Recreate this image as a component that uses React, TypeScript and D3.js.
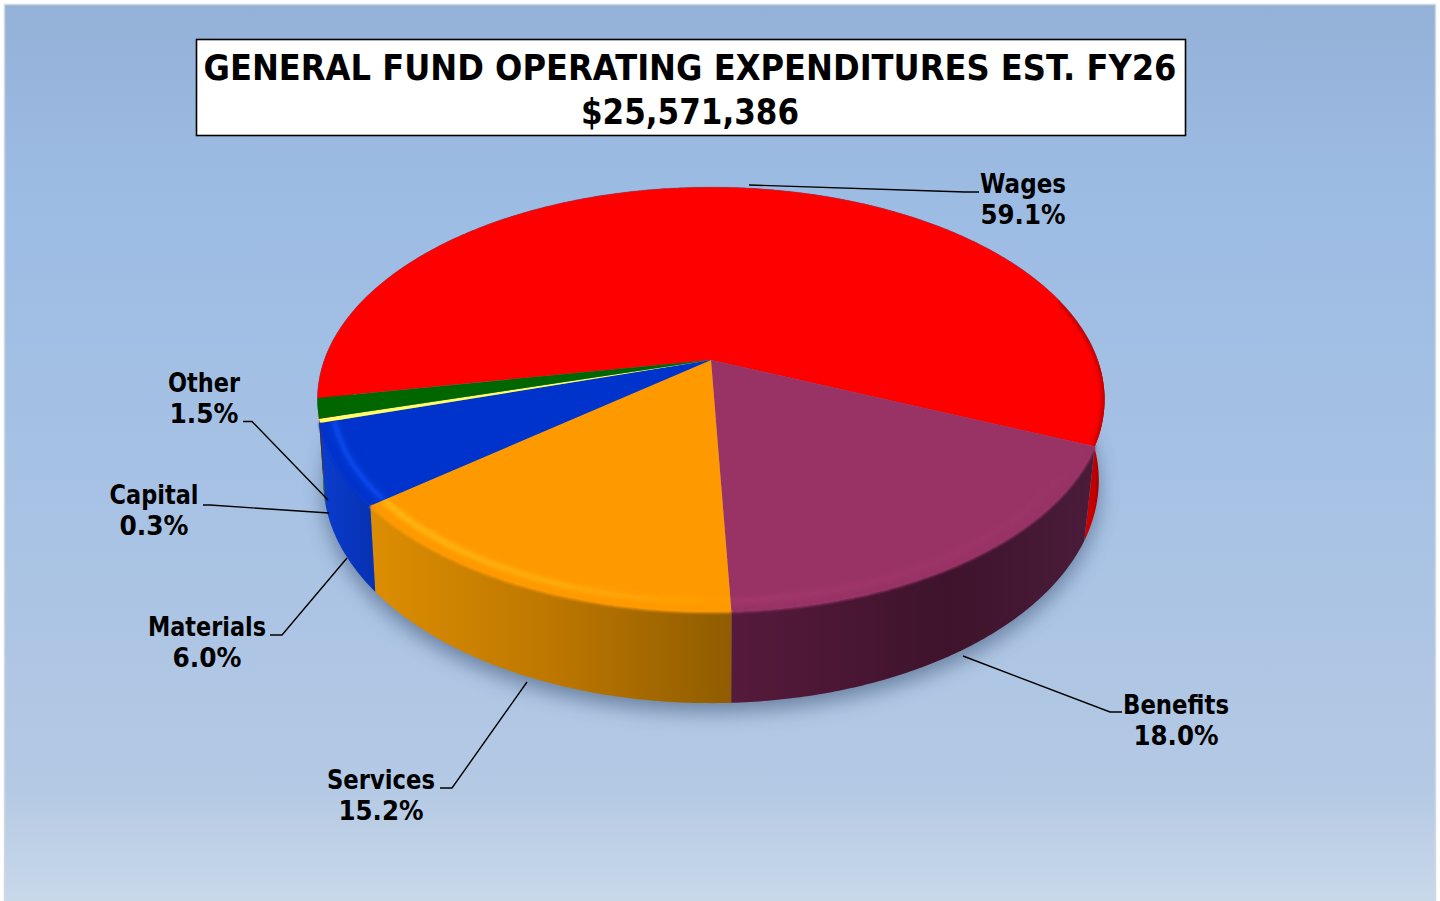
import React from "react";
import * as d3 from "d3";

const categories = ["Wages", "Benefits", "Services", "Materials", "Capital", "Other"];
const shares = [59.1, 18.0, 15.2, 6.0, 0.3, 1.5];
const shareLabels = ["59.1%", "18.0%", "15.2%", "6.0%", "0.3%", "1.5%"];
const topColors = ["#ff0000", "#993366", "#ff9900", "#0033cc", "#ffff66", "#006600"];
const titleLines = ["GENERAL FUND OPERATING EXPENDITURES EST. FY26", "$25,571,386"];

// Layout only: label anchors, fitted text widths and leader polylines
const labelX = [1023, 1176, 381, 207, 154, 204];
const labelY = [193, 714, 789, 636, 504, 392];
const nameW = [86, 106, 108, 118, 89, 72];
const pctW = [85, 85, 85, 69, 69, 69];
const leaders: [number, number][][] = [
  [[749, 185], [965, 192], [979, 192]],
  [[963, 656], [1110, 712], [1122, 712]],
  [[527, 682], [452, 788], [440, 788]],
  [[347, 558], [282, 635], [270, 635]],
  [[329, 513], [210, 505], [203, 505]],
  [[328, 500], [252, 421.5], [243, 421.5]],
];

const W = 1440;
const H = 901;
const FONT = "'DejaVu Sans', Verdana, sans-serif";
const START = (-100.3 * Math.PI) / 180;
const DEG = Math.PI / 180;

type Rim = { cx: number; cy: number; R: number; S: number; k: number; lean: number };
const topRim: Rim = { cx: 711, cy: 360, R: 386.7, S: 205, k: 0.186, lean: 0 };
const botRim: Rim = { cx: 711, cy: 439, R: 381, S: 215, k: 0.186, lean: 2.7 };

// small view corrections of the drawn angle (degrees), as the original 3D view is not a pure projection
const viewWarp = d3.scaleLinear().domain([-101, 60, 112.5, 177.3, 232, 260]).range([0, 0, 0.8, 0.55, -0.55, 0]).clamp(true);
const wallLean = d3.scaleLinear().domain([80, 112.5, 145]).range([0, 1, 0]).clamp(true);

// perspective view of a circle: pie angle (clockwise from 12 o'clock) to screen
function project(rim: Rim, angle: number, r = 1): [number, number] {
  const deg = angle / DEG;
  const a = (deg + viewWarp(deg) + rim.lean * wallLean(deg)) * DEG;
  const x = Math.sin(a) * r;
  const y = -Math.cos(a) * r;
  const w = 1 - rim.k * y;
  return [rim.cx + (rim.R * x) / w, rim.cy + (rim.S * y) / w];
}

function samples(a0: number, a1: number): number[] {
  const n = Math.max(2, Math.ceil(Math.abs(a1 - a0) / 0.01));
  return d3.range(n + 1).map((i) => a0 + ((a1 - a0) * i) / n);
}

const line = d3.line<[number, number]>();
const arcs = d3
  .pie<number>()
  .sort(null)
  .startAngle(START)
  .endAngle(START + 2 * Math.PI)(shares);

const topPath = (a0: number, a1: number) =>
  line([[topRim.cx, topRim.cy], ...samples(a0, a1).map((a) => project(topRim, a))])! + "Z";
const wallPath = (a0: number, a1: number) =>
  line([
    ...samples(a0, a1).map((a) => project(topRim, a)),
    ...samples(a1, a0).map((a) => project(botRim, a)),
  ])! + "Z";
const rimPath = (a0: number, a1: number, r: number) =>
  line(samples(a0, a1).map((a) => project(topRim, a, r)))!;

const wallFills = ["url(#wWages)", "url(#wBenefits)", "url(#wServices)", "url(#wMaterials)", "#004a00", "#004a00"];
const bevelStrokes = ["none", "url(#bBenefits)", "url(#bServices)", "#0b4ef2", "none", "none"];

export default function App() {
  const bottomOutline = line(samples(-Math.PI, Math.PI).map((a) => project(botRim, a)))! + "Z";
  return (
    <svg
      width={W}
      height={H}
      viewBox={`0 0 ${W} ${H}`}
      style={{ position: "absolute", left: 0, top: 0, display: "block" }}
    >
      <defs>
        <linearGradient id="bg" x1="0" y1="0" x2="0" y2="1">
          <stop offset="0" stopColor="#94b1d8" />
          <stop offset="0.22" stopColor="#9dbce4" />
          <stop offset="0.5" stopColor="#a5c1e4" />
          <stop offset="0.87" stopColor="#b4c9e4" />
          <stop offset="1" stopColor="#c9d9ea" />
        </linearGradient>
        <linearGradient id="wServices" gradientUnits="userSpaceOnUse" x1="372" y1="0" x2="733" y2="0">
          <stop offset="0" stopColor="#dc8d02" />
          <stop offset="0.5" stopColor="#bd7700" />
          <stop offset="1" stopColor="#8f5c00" />
        </linearGradient>
        <linearGradient id="wBenefits" gradientUnits="userSpaceOnUse" x1="733" y1="0" x2="1095" y2="0">
          <stop offset="0" stopColor="#561a3c" />
          <stop offset="0.6" stopColor="#3e132b" />
          <stop offset="1" stopColor="#4a1c3a" />
        </linearGradient>
        <linearGradient id="wMaterials" gradientUnits="userSpaceOnUse" x1="322" y1="0" x2="378" y2="0">
          <stop offset="0" stopColor="#0a3ccc" />
          <stop offset="1" stopColor="#0730b0" />
        </linearGradient>
        <linearGradient id="wWages" gradientUnits="userSpaceOnUse" x1="1080" y1="0" x2="1102" y2="0">
          <stop offset="0" stopColor="#d80000" />
          <stop offset="0.7" stopColor="#c00000" />
          <stop offset="1" stopColor="#700000" />
        </linearGradient>
        <linearGradient id="bServices" gradientUnits="userSpaceOnUse" x1="372" y1="0" x2="733" y2="0">
          <stop offset="0" stopColor="#ffc21a" />
          <stop offset="0.5" stopColor="#ffb00d" />
          <stop offset="1" stopColor="#ff9c02" />
        </linearGradient>
        <linearGradient id="bBenefits" gradientUnits="userSpaceOnUse" x1="733" y1="0" x2="1095" y2="0">
          <stop offset="0" stopColor="#a5386c" />
          <stop offset="1" stopColor="#993366" />
        </linearGradient>
        <filter id="shadow" x="-10%" y="-10%" width="120%" height="125%">
          <feGaussianBlur stdDeviation="10" />
        </filter>
        <filter id="soft" x="-5%" y="-5%" width="110%" height="110%">
          <feGaussianBlur stdDeviation="2.4" />
        </filter>
        <filter id="softer" x="-5%" y="-5%" width="110%" height="110%">
          <feGaussianBlur stdDeviation="1.1" />
        </filter>
        {arcs.map((d, i) => (
          <clipPath id={`clip${i}`} key={i}>
            <path d={topPath(d.startAngle, d.endAngle)} />
          </clipPath>
        ))}
      </defs>

      {/* page and chart area */}
      <rect x={0} y={0} width={W} height={H} fill="#ffffff" />
      <rect x={4.5} y={4.5} width={1431} height={H} fill="url(#bg)" stroke="#d4d8de" strokeWidth={1.5} />

      {/* title */}
      <rect x={196.5} y={39.5} width={989} height={96} fill="#ffffff" stroke="#000000" strokeWidth={1.6} />
      <text x={690} y={80} textAnchor="middle" fontFamily={FONT} fontWeight={700} fontSize={36} fill="#000"
        textLength={973} lengthAdjust="spacingAndGlyphs">{titleLines[0]}</text>
      <text x={690} y={124} textAnchor="middle" fontFamily={FONT} fontWeight={700} fontSize={36} fill="#000"
        textLength={218} lengthAdjust="spacingAndGlyphs">{titleLines[1]}</text>

      {/* shadow under the pie */}
      <path d={bottomOutline} transform="translate(0,9)" fill="#42587a" opacity={0.62} filter="url(#shadow)" />

      {/* side walls */}
      {arcs.map((d, i) => (
        <path key={`wall${i}`} d={wallPath(d.startAngle, d.endAngle)} fill={wallFills[i]} />
      ))}

      {/* top face */}
      {arcs.map((d, i) => (
        <path key={`top${i}`} d={topPath(d.startAngle, d.endAngle)} fill={topColors[i]} />
      ))}

      {/* soft seam between the top face and the wall */}
      {arcs.map((d, i) =>
        bevelStrokes[i] === "none" ? null : (
          <path key={`seam${i}`} d={rimPath(d.startAngle, d.endAngle, 1)} fill="none"
            stroke={topColors[i]} strokeWidth={2.5} filter="url(#softer)" />
        )
      )}

      {/* bevel highlight along the rim */}
      {arcs.map((d, i) =>
        bevelStrokes[i] === "none" ? null : (
          <g key={`bevel${i}`} clipPath={`url(#clip${i})`}>
            <path d={rimPath(d.startAngle, d.endAngle, 0.965)} fill="none"
              stroke={bevelStrokes[i]} strokeWidth={5} filter="url(#soft)" />
          </g>
        )
      )}
      <g clipPath="url(#clip0)">
        <path d={rimPath(72 * DEG, arcs[0].endAngle, 1)} fill="none" stroke="#8a0000" strokeWidth={3} filter="url(#soft)" />
      </g>
      <path d={rimPath(START, 90 * DEG, 1)} fill="none" stroke="#5c5c8c" strokeOpacity={0.4} strokeWidth={1} />

      {/* leaders */}
      {leaders.map((pts, i) => (
        <path key={`lead${i}`} d={line(pts)!} fill="none" stroke="#000" strokeWidth={1.4} />
      ))}

      {/* labels */}
      {categories.map((c, i) => (
        <g key={c} fontFamily={FONT} fontWeight={700} fontSize={26} fill="#000" textAnchor="middle">
          <text x={labelX[i]} y={labelY[i]} textLength={nameW[i]} lengthAdjust="spacingAndGlyphs">{c}</text>
          <text x={labelX[i]} y={labelY[i] + 30.5} textLength={pctW[i]} lengthAdjust="spacingAndGlyphs">{shareLabels[i]}</text>
        </g>
      ))}
    </svg>
  );
}
